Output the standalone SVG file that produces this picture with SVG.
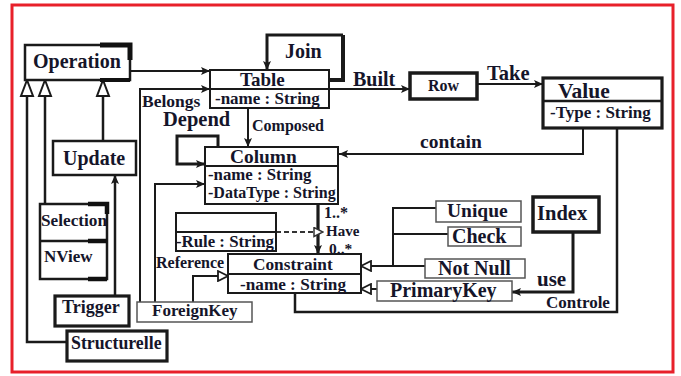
<svg xmlns="http://www.w3.org/2000/svg" width="681" height="376" viewBox="0 0 681 376">
  <style>
    .box { fill: #ffffff; stroke: #1a1a1a; stroke-width: 2; }
    .heavy { stroke-width: 3.2; }
    .thin { stroke-width: 1.5; stroke: #555; }
    .div { stroke: #1a1a1a; stroke-width: 1.8; fill: none; }
    .t { font-family: "Liberation Serif", "Times New Roman", serif; font-weight: bold; fill: #15152a; }
    .ln { fill: none; stroke: #1a1a1a; stroke-width: 2; }
    .arr { marker-end: url(#arrow); }
    .gen { marker-end: url(#hollow); }
  </style>
  <defs>
    <marker id="arrow" markerUnits="userSpaceOnUse" markerWidth="10" markerHeight="10" refX="9" refY="5" orient="auto">
      <path d="M0,1 L9,5 L0,9 L2,5 Z" fill="#1a1a1a"/>
    </marker>
    <marker id="hollow" markerUnits="userSpaceOnUse" markerWidth="12" markerHeight="12" refX="11" refY="6" orient="auto">
      <path d="M1,1 L11,6 L1,11 Z" fill="#ffffff" stroke="#1a1a1a" stroke-width="1.8"/>
    </marker>
    <marker id="openTri" markerUnits="userSpaceOnUse" markerWidth="11" markerHeight="11" refX="10" refY="5.5" orient="auto">
      <path d="M1,1 L10,5.5 L1,10 Z" fill="#ffffff" stroke="#333" stroke-width="1.5"/>
    </marker>
  </defs>

  <!-- outer frame -->
  <rect x="12" y="5" width="661" height="367" fill="#ffffff" stroke="#e8202a" stroke-width="3"/>

  <g id="connectors">
    <!-- Operation to Table -->
    <path class="ln arr" d="M130,71 H210"/>
    <!-- Belongs: ForeignKey to Table -->
    <path class="ln arr" d="M140,302 V89 H210"/>
    <!-- ForeignKey to Column -->
    <path class="ln arr" d="M155,302 V184 H205"/>
    <!-- Join self-association -->
    <path class="ln" d="M329,80 H343 V35" style="stroke-width:4"/>
    <path class="ln arr" d="M343,35 H267 V70" style="stroke-width:3"/>
    <!-- Built -->
    <path class="ln arr" d="M329,89 H410"/>
    <!-- Take -->
    <path class="ln arr" d="M477,84 H543"/>
    <!-- contain -->
    <path class="ln arr" d="M583,128 V154 H339"/>
    <!-- Composed -->
    <path class="ln arr" d="M248,108 V147"/>
    <!-- Depend self-association -->
    <path class="ln arr" d="M218,147 V136 H177 V164 H205" style="stroke-width:3"/>
    <!-- Have -->
    <path class="ln arr" d="M318,204 V254" style="stroke-width:3.2"/>
    <!-- association class link -->
    <path fill="none" stroke="#333" stroke-width="2" stroke-dasharray="5,3" marker-end="url(#openTri)" d="M276,232 H323"/>
    <!-- Reference -->
    <path class="ln gen" d="M193,302 V276 H228"/>
    <!-- constraint kinds -->
    <path class="ln" d="M436,208 H393 V266"/>
    <path class="ln" d="M448,234 H393"/>
    <path class="ln gen" d="M425,266 H361"/>
    <path class="ln gen" d="M377,289 H361"/>
    <!-- use -->
    <path class="ln arr" d="M573,232 V292 H512" style="stroke-width:3"/>
    <!-- Controle -->
    <path class="ln" d="M617,128 V312 H295 V293" style="stroke-width:2.5"/>
    <!-- generalisations to Operation -->
    <path class="ln" d="M27,96 V342 H67" style="stroke-width:2.5"/>
    <path class="ln" d="M45,96 V204" style="stroke-width:2.5"/>
    <path class="ln" d="M103,96 V141" style="stroke-width:2.5"/>
    <path d="M27,80 L33,96 H21 Z M45,80 L51,96 H39 Z M103,80 L109,96 H97 Z" fill="#ffffff" stroke="#1a1a1a" stroke-width="2"/>
    <!-- Trigger to Update -->
    <path class="ln arr" d="M115,296 V175" style="stroke-width:2.5"/>
  </g>

  <g id="operation">
    <rect class="box" x="25" y="45" width="105" height="35" style="stroke-width:2.5"/>
    <path d="M100,45 H130 V60" fill="none" stroke="#111" stroke-width="5"/>
    <path d="M100,80 H130" fill="none" stroke="#111" stroke-width="4"/>
    <text class="t" x="33" y="68" font-size="20">Operation</text>
  </g>

  <g id="update">
    <rect class="box" x="53" y="141" width="83" height="34" style="stroke-width:2.5"/>
    <text class="t" x="63" y="165" font-size="20">Update</text>
  </g>

  <g id="selection-nview">
    <rect class="box" x="40" y="204" width="67" height="75" style="stroke-width:2.5"/>
    <path class="div" d="M40,241 H107" style="stroke-width:2.5"/>
    <path d="M88,204 H107 V214 M88,241 H107 M88,279 H107" fill="none" stroke="#111" stroke-width="4.5"/>
    <text class="t" x="41" y="226" font-size="16.5" textLength="66" lengthAdjust="spacingAndGlyphs">Selection</text>
    <text class="t" x="44" y="262" font-size="17">NView</text>
  </g>

  <g id="trigger">
    <rect class="box heavy" x="55" y="296" width="74" height="30"/>
    <text class="t" x="62" y="313" font-size="18">Trigger</text>
  </g>

  <g id="structurelle">
    <rect class="box heavy" x="67" y="331" width="100" height="30"/>
    <text class="t" x="71" y="349" font-size="17.8">Structurelle</text>
  </g>

  <g id="table">
    <rect class="box" x="210" y="70" width="119" height="38"/>
    <path class="div" d="M210,89 H329"/>
    <text class="t" x="240" y="86" font-size="19">Table</text>
    <text class="t" x="215" y="104" font-size="17">-name : String</text>
  </g>

  <g id="row">
    <rect class="box" x="410" y="73" width="67" height="26" style="stroke-width:3.5"/>
    <text class="t" x="428" y="91" font-size="16">Row</text>
  </g>

  <g id="value">
    <rect class="box heavy" x="543" y="78" width="119" height="50"/>
    <path class="div" d="M543,101 H662" style="stroke-width:2.6"/>
    <text class="t" x="558" y="98" font-size="21.5">Value</text>
    <text class="t" x="550" y="118" font-size="17">-Type : String</text>
  </g>

  <g id="column">
    <rect class="box" x="205" y="147" width="133" height="57"/>
    <path class="div" d="M205,166 H338"/>
    <text class="t" x="230" y="163" font-size="19.4">Column</text>
    <text class="t" x="208" y="180" font-size="16.8">-name : String</text>
    <text class="t" x="208" y="198" font-size="16">-DataType : String</text>
  </g>

  <g id="rule">
    <rect class="box" x="176" y="213" width="100" height="38"/>
    <path class="div" d="M176,232 H276"/>
    <text class="t" x="176" y="247" font-size="16.8">-Rule : String</text>
  </g>

  <g id="constraint">
    <rect class="box" x="228" y="254" width="133" height="39"/>
    <path class="div" d="M228,274 H361"/>
    <text class="t" x="253" y="270" font-size="17.3">Constraint</text>
    <text class="t" x="240" y="290" font-size="17.2">-name : String</text>
  </g>

  <g id="foreignkey">
    <rect class="box thin" x="137" y="302" width="115" height="20"/>
    <text class="t" x="152" y="316" font-size="17">ForeignKey</text>
  </g>

  <g id="unique">
    <rect class="box thin" x="436" y="201" width="85" height="21"/>
    <text class="t" x="447" y="217" font-size="19.5">Unique</text>
  </g>

  <g id="check">
    <rect class="box thin" x="448" y="227" width="73" height="19"/>
    <text class="t" x="452" y="243" font-size="20">Check</text>
  </g>

  <g id="notnull">
    <rect class="box thin" x="425" y="259" width="100" height="19"/>
    <text class="t" x="438" y="275" font-size="20">Not Null</text>
  </g>

  <g id="primarykey">
    <rect class="box thin" x="377" y="281" width="135" height="20"/>
    <text class="t" x="390" y="297" font-size="20">PrimaryKey</text>
  </g>

  <g id="index">
    <rect class="box" x="533" y="197" width="66" height="35" style="stroke-width:3.5"/>
    <text class="t" x="537" y="220" font-size="20.5">Index</text>
  </g>

  <g id="labels">
    <text class="t" x="285" y="58" font-size="20">Join</text>
    <text class="t" x="353" y="86" font-size="20">Built</text>
    <text class="t" x="487" y="80" font-size="20.5">Take</text>
    <text class="t" x="420" y="148" font-size="19.5">contain</text>
    <text class="t" x="142" y="107" font-size="17.5">Belongs</text>
    <text class="t" x="163" y="126" font-size="20.5">Depend</text>
    <text class="t" x="252" y="131" font-size="16">Composed</text>
    <text class="t" x="324" y="218" font-size="16">1..*</text>
    <text class="t" x="326" y="236" font-size="15">Have</text>
    <text class="t" x="329" y="254" font-size="15.5">0..*</text>
    <text class="t" x="156" y="268" font-size="16">Reference</text>
    <text class="t" x="537" y="286" font-size="21">use</text>
    <text class="t" x="546" y="308" font-size="17">Controle</text>
  </g>
</svg>
